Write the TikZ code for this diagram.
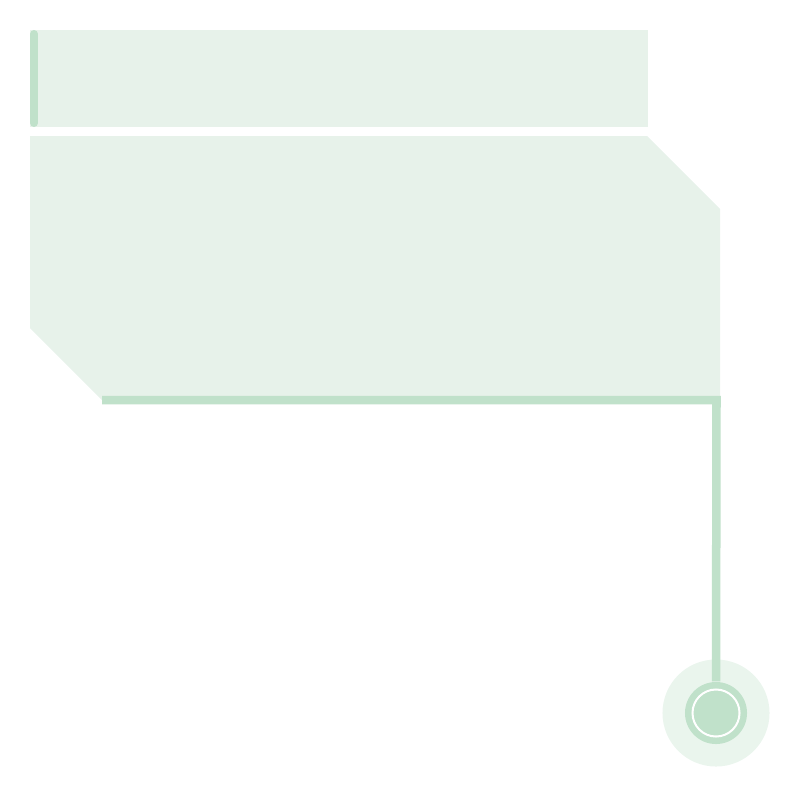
\documentclass[tikz,border=0pt]{standalone}
\usetikzlibrary{positioning}
\definecolor{panelfill}{RGB}{231,242,234}
\definecolor{accent}{RGB}{192,225,202}
\definecolor{halo}{RGB}{234,245,237}
\tikzset{
  rail/.style={accent,line width=0.085cm,line join=miter},
  dot/.style={circle,inner sep=0pt,draw=none}
}
\begin{document}
\begin{tikzpicture}[x=0.01cm,y=-0.01cm]
                \useasboundingbox (0,0) rectangle (800,797);
                % top bar
                \fill[panelfill] (30,30) rectangle (648,127);
                \draw[accent,line width=0.08cm,line cap=round] (34,34) -- (34,123);

                % main panel
                \fill[panelfill] (30,136) -- (647,136) -- (720,209) -- (720,400)
                    -- (102,400) -- (30,328) -- cycle;

                % knob
                \node[dot,fill=halo,minimum size=1.07cm] (halo) at (716,713) {};
                \node[dot,fill=accent,minimum size=0.62cm] (knob) at (halo) {};
                \node[dot,draw=white,line width=0.02cm,minimum size=0.47cm] (ring) at (knob) {};

                \coordinate (start) at (102,400);
                \coordinate (corner) at (716.5,400);
                \draw[rail] (start) -- (corner) -- (knob.north);
\end{tikzpicture}
\end{document}
